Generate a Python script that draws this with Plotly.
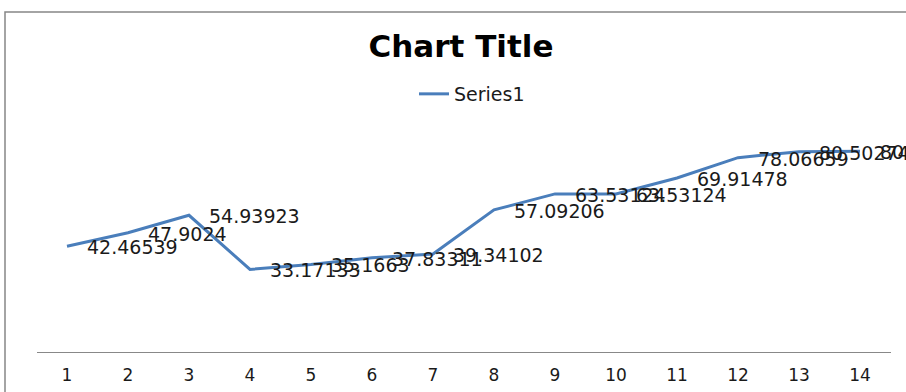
import plotly.graph_objects as go

categories = list(range(1, 15))
values = [42.46539, 47.9024, 54.93923, 33.17133, 35.1663, 37.83311, 39.34102,
          57.09206, 63.53124, 63.53124, 69.91478, 78.06659, 80.50274, 80.70264]
label_texts = ["42.46539", "47.9024", "54.93923", "33.17133", "35.1663", "37.83311", "39.34102",
               "57.09206", "63.53124", "63.53124", "69.91478", "78.06659", "80.50274", "80.70264"]

W, H = 906, 392
LINE_COLOR = "#4A7EBB"

fig = go.Figure()
fig.add_trace(go.Scatter(
    x=categories, y=values, mode="lines", name="Series1",
    line=dict(color=LINE_COLOR, width=3),
    hoverinfo="skip",
))

annotations = []
for c, v, t in zip(categories, values, label_texts):
    annotations.append(dict(
        x=c, y=v, xref="x", yref="y", text=t, showarrow=False,
        xanchor="left", yanchor="middle", xshift=18, yshift=-1,
        font=dict(family="DejaVu Sans", size=19, color="#1a1a1a"),
    ))

# plot-area geometry (pixels)
px_left, px_right = 36.5, 890.5
py_zero, py_top = 352, 128

fig.update_layout(
    width=W, height=H,
    margin=dict(l=0, r=0, t=0, b=0),
    paper_bgcolor="white", plot_bgcolor="white",
    title=dict(text="<b>Chart Title</b>", x=461 / W, xanchor="center",
               y=1 - 46 / H, yanchor="middle",
               font=dict(family="DejaVu Sans", size=31, color="#000000")),
    showlegend=True,
    legend=dict(orientation="h", x=414 / W, xanchor="left", y=1 - 94 / H, yanchor="middle",
                font=dict(family="DejaVu Sans", size=19, color="#1a1a1a"),
                bgcolor="rgba(0,0,0,0)", itemwidth=30),
    xaxis=dict(domain=[px_left / W, px_right / W], range=[0.5, 14.5],
               tickmode="array", tickvals=categories, ticktext=[str(c) for c in categories],
               showgrid=False, zeroline=False, showline=True, linecolor="#888888", linewidth=1,
               ticks="", ticklabelstandoff=8,
               tickfont=dict(family="DejaVu Sans", size=17, color="#1a1a1a")),
    yaxis=dict(domain=[(H - py_zero) / H, (H - py_top) / H], range=[0, 90],
               showgrid=False, zeroline=False, showline=False, showticklabels=False, ticks=""),
    annotations=annotations,
    shapes=[dict(type="rect", xref="paper", yref="paper",
                 x0=5 / W, x1=1.2, y0=-0.2, y1=1 - 12 / H,
                 line=dict(color="#868686", width=1.5), fillcolor="rgba(0,0,0,0)")],
)

fig.write_html("out.html")
